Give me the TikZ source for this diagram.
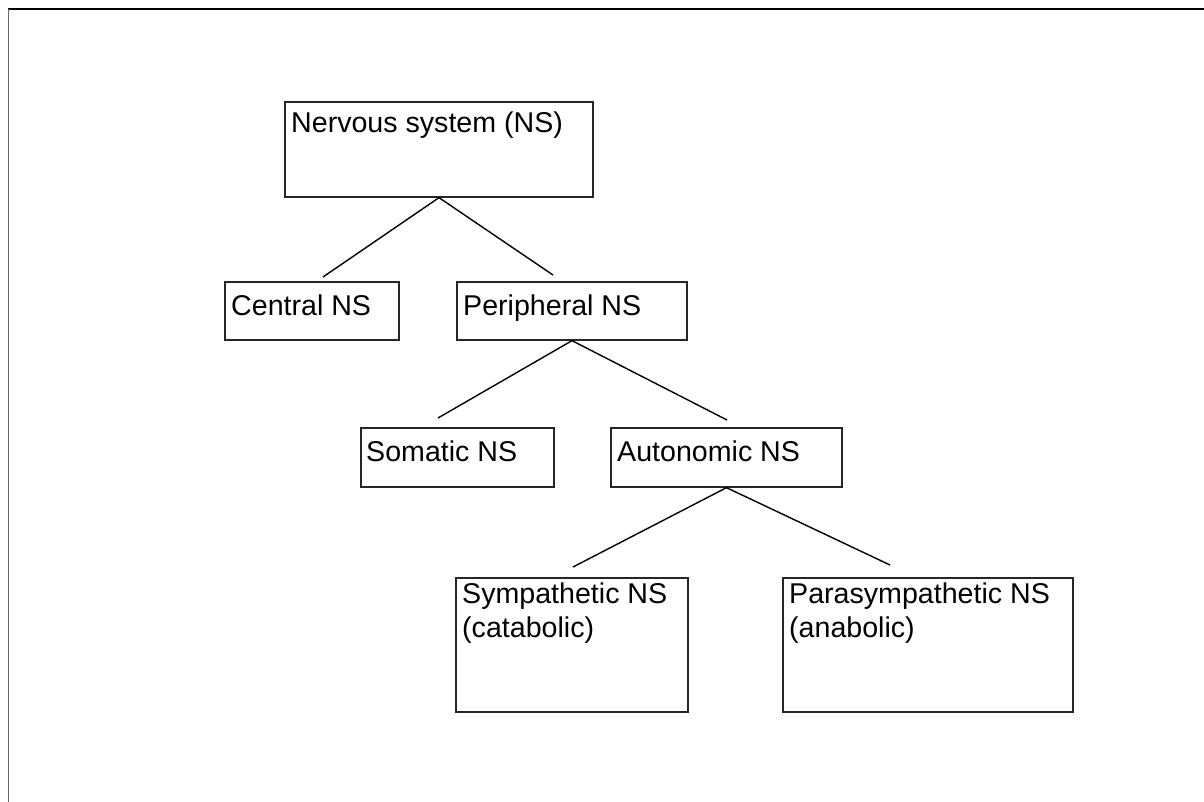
\documentclass[tikz,border=0pt]{standalone}
\usepackage{fontspec}
\setmainfont{Liberation Sans}
\begin{document}
\begin{tikzpicture}[x=1pt,y=-1pt,
  box/.style={draw=black!85,line width=1.3pt,rectangle,inner sep=0pt},
  lbl/.style={anchor=base west,inner sep=0pt,font=\fontsize{28.6}{36}\selectfont},
  conn/.style={line width=1.4pt,black}]
\useasboundingbox (0,0) rectangle (1204,802);
% frame
\draw[line width=2pt] (8,9) -- (1204,9);
\draw[line width=1pt,black!60] (8,9) -- (8,802);
% boxes: (left,top) to (right,bottom)
\node[box,minimum width=308,minimum height=95] (ns) at (439,149.5) {};
\node[box,minimum width=174,minimum height=58] (cns) at (312,311) {};
\node[box,minimum width=230,minimum height=58] (pns) at (572,311) {};
\node[box,minimum width=193,minimum height=59] (sns) at (457.5,457.5) {};
\node[box,minimum width=231,minimum height=59] (ans) at (726.5,457.5) {};
\node[box,minimum width=232,minimum height=134] (sym) at (572,645) {};
\node[box,minimum width=290,minimum height=134] (para) at (928,645) {};
% labels
\node[lbl] (tns) at (291,133) {Nervous system (NS)};
\node[lbl] (tcns) at (231,315) {Central NS};
\node[lbl] (tpns) at (463,315) {Peripheral NS};
\node[lbl] (tsns) at (366,461) {Somatic NS};
\node[lbl] (tans) at (617,461) {Autonomic NS};
\node[lbl] (tsym1) at (462,603) {Sympathetic NS};
\node[lbl] (tsym2) at (462,637) {(catabolic)};
\node[lbl] (tpara1) at (789,603) {Parasympathetic NS};
\node[lbl] (tpara2) at (789,637) {(anabolic)};
% free ends of connectors
\coordinate (e1) at (323,277);
\coordinate (e2) at (553,275);
\coordinate (e3) at (438,418);
\coordinate (e4) at (727,420);
\coordinate (e5) at (573,567);
\coordinate (e6) at (890,565);
\draw[conn] (ns.south) -- (e1);
\draw[conn] (ns.south) -- (e2);
\draw[conn] (pns.south) -- (e3);
\draw[conn] (pns.south) -- (e4);
\draw[conn] (ans.south) -- (e5);
\draw[conn] (ans.south) -- (e6);
\end{tikzpicture}
\end{document}
